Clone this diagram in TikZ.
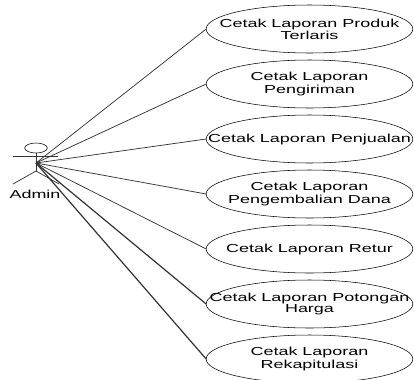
\documentclass[tikz,border=0pt]{standalone}
\usepackage{fontspec}
\setmainfont[FakeStretch=1.55]{Liberation Sans}
\usetikzlibrary{shapes.geometric, positioning}

\newcommand{\casetext}[1]{\makebox[0pt]{\parbox{175pt}{\centering #1}}}

\begin{document}
\begin{tikzpicture}[
        x=0.75pt, y=-0.75pt,
        node distance=5.25pt,
        font=\fontsize{8.7}{7.5}\selectfont,
        usecase/.style={ellipse, draw, inner sep=0pt, outer sep=0pt, minimum width=155pt, minimum height=36pt},
        head/.style={ellipse, draw, inner sep=0pt, outer sep=0pt, minimum width=17pt, minimum height=7.5pt},
        line/.style={draw, line width=0.55pt, black!80},
        thickline/.style={draw, line width=0.9pt, black!80}
    ]
    \useasboundingbox (0,0) rectangle (414,379);

    % use cases
    \node[usecase] (terlaris) at (309.5,29) {\casetext{Cetak Laporan Produk\\Terlaris}};
    \node[usecase, below=of terlaris] (kirim) {\casetext{Cetak Laporan\\Pengiriman}};
    \node[usecase, below=of kirim] (jual) {\casetext{Cetak Laporan Penjualan}};
    \node[usecase, below=of jual] (dana) {\casetext{Cetak Laporan\\Pengembalian Dana}};
    \node[usecase, below=of dana] (retur) {\casetext{Cetak Laporan Retur}};
    \node[usecase, below=of retur] (potongan) {\casetext{Cetak Laporan Potongan\\Harga}};
    \node[usecase, below=of potongan] (rekap) {\casetext{Cetak Laporan\\Rekapitulasi}};

    % actor
    \node[head] (kepala) at (36,148) {};
    \coordinate (hub) at (36,163);
    \coordinate (tangankiri) at (13,156);
    \coordinate (tangankanan) at (58,156);
    \coordinate (pinggang) at (36,171);
    \coordinate (kakikiri) at (13,184);
    \coordinate (kakikanan) at (59,184);
    \node (admin) at (35,194) {Admin};
    \path[line] (kepala.south) -- (pinggang);
    \path[line] (tangankiri) -- (tangankanan);
    \path[line] (kakikiri) -- (pinggang) -- (kakikanan);

    % lines
    \foreach \target in {terlaris, kirim, jual, dana, retur}
        \path[line] (hub) -- (\target.west);
    \path[thickline] (hub) -- (potongan.west);
    \path[thickline] (hub) -- (rekap.west);

    \end{tikzpicture}
\end{document}
